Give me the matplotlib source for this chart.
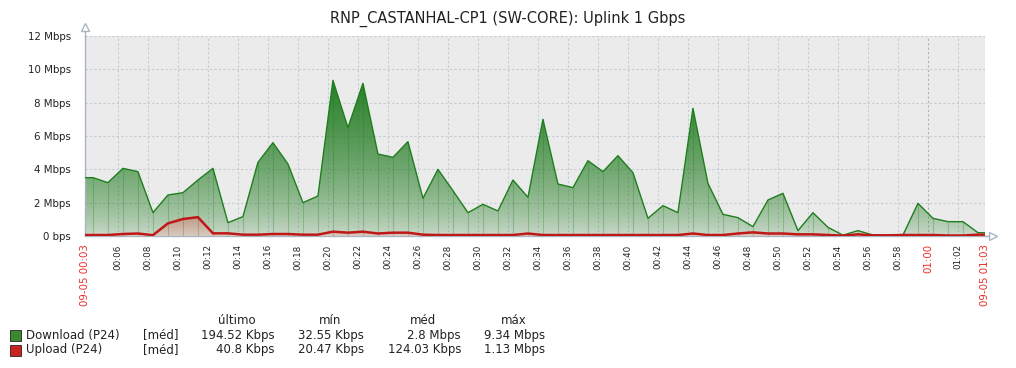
import numpy as np
import matplotlib
matplotlib.use('Agg')
import matplotlib.pyplot as plt
from matplotlib.patches import Rectangle

W, H = 1016, 368

# minutes after 00:00 (first/last are the window edges)
minutes = [3.8] + [4.33 + k for k in range(60)] + [63.8]

download = [3.5, 3.5, 3.2, 4.06, 3.86, 1.4, 2.46, 2.6, 3.36, 4.06,
            0.8, 1.16, 4.42, 5.6, 4.32, 2.0, 2.4, 9.34, 6.5, 9.16,
            4.92, 4.72, 5.66, 2.26, 4.0, 2.72, 1.4, 1.9, 1.5, 3.36,
            2.32, 7.0, 3.12, 2.9, 4.52, 3.86, 4.82, 3.8, 1.06, 1.82,
            1.4, 7.66, 3.16, 1.3, 1.1, 0.56, 2.16, 2.56, 0.32, 1.4,
            0.52, 0.05, 0.32, 0.06, 0.04, 0.05, 1.96, 1.06, 0.86, 0.86,
            0.2, 0.19]
upload = [0.06, 0.06, 0.06, 0.12, 0.15, 0.05, 0.76, 1.02, 1.13, 0.16,
          0.16, 0.08, 0.08, 0.12, 0.12, 0.08, 0.08, 0.26, 0.2, 0.26,
          0.15, 0.2, 0.2, 0.08, 0.06, 0.06, 0.06, 0.06, 0.06, 0.06,
          0.15, 0.06, 0.06, 0.06, 0.06, 0.06, 0.06, 0.06, 0.06, 0.06,
          0.06, 0.15, 0.06, 0.06, 0.15, 0.22, 0.15, 0.15, 0.1, 0.1,
          0.06, 0.02, 0.1, 0.04, 0.04, 0.06, 0.06, 0.06, 0.03, 0.03,
          0.08, 0.08]

y_ticks = [0, 2, 4, 6, 8, 10, 12]
y_labels = ['0 bps', '2 Mbps', '4 Mbps', '6 Mbps', '8 Mbps', '10 Mbps', '12 Mbps']

minor_ticks = [6, 8, 10, 12, 14, 16, 18, 20, 22, 24, 26, 28, 30, 32, 34, 36,
               38, 40, 42, 44, 46, 48, 50, 52, 54, 56, 58, 62]
minor_labels = ['00:%02d' % m for m in minor_ticks[:-1]] + ['01:02']
major_ticks = [3.8, 60, 63.8]
major_labels = ['09-05 00:03', '01:00', '09-05 01:03']

legend_rows = [
    ('Download (P24)', '#3a8a32', ['194.52 Kbps', '32.55 Kbps', '2.8 Mbps', '9.34 Mbps']),
    ('Upload (P24)', '#cc2020', ['40.8 Kbps', '20.47 Kbps', '124.03 Kbps', '1.13 Mbps']),
]
legend_head = ['último', 'mín', 'méd', 'máx']

fig = plt.figure(figsize=(W / 100, H / 100), dpi=100)
ax = fig.add_axes([85 / W, 1 - 236 / H, 900 / W, 200 / H])
ax.set_facecolor('#ebebeb')

x = np.array(minutes)
dl = np.array(download)
ul = np.array(upload)

# ── gradient fill for download ─────────────────────────────────────────────
poly = ax.fill_between(x, 0, dl, color='none', lw=0)
g = np.linspace(0, 1, 256)[:, None]
img = np.zeros((256, 1, 4))
img[..., 0] = 0.10
img[..., 1] = 0.47
img[..., 2] = 0.10
img[..., 3] = np.clip(0.12 + 0.95 * g ** 0.65, 0, 1)
im = ax.imshow(img, extent=[x[0], x[-1], 0, 12], origin='lower',
               aspect='auto', zorder=1, interpolation='bilinear')
im.set_clip_path(poly.get_paths()[0], transform=ax.transData)
ax.vlines(x[1:-1], 0, dl[1:-1], color='#1e7e1e', alpha=0.28, lw=0.8, zorder=2)

# ── opaque fill for upload ─────────────────────────────────────────────────
poly2 = ax.fill_between(x, 0, ul, color='none', lw=0)
lo = np.array([0xd8, 0xca, 0xbf]) / 255
hi = np.array([0xbc, 0x9a, 0x84]) / 255
img2 = np.zeros((256, 1, 3))
img2[:, 0, :] = lo + (hi - lo) * g
im2 = ax.imshow(img2, extent=[x[0], x[-1], 0, 1.2], origin='lower',
                aspect='auto', zorder=3, interpolation='bilinear')
im2.set_clip_path(poly2.get_paths()[0], transform=ax.transData)
ax.vlines(x[1:-1], 0, ul[1:-1], color='#9a5a40', alpha=0.35, lw=0.8, zorder=3.5)

ax.plot(x, dl, color='#1e7e1e', lw=1.0, zorder=4)
ax.plot(x, ul, color='#c01818', lw=1.8, zorder=5)

# ── grid ───────────────────────────────────────────────────────────────────
for yv in y_ticks[1:]:
    ax.axhline(yv, color='#c3ccd4', lw=0.8, ls=(0, (2, 2)), zorder=0.5)
for xv in minor_ticks + [63.8]:
    ax.axvline(xv, color='#c3ccd4', lw=0.8, ls=(0, (2, 2)), zorder=0.5)
ax.axvline(60, color='#a9b4be', lw=0.8, ls=(0, (2, 2)), zorder=0.5)

ax.set_xlim(3.8, 63.8)
ax.set_ylim(0, 12)

ax.set_yticks(y_ticks, y_labels)
ax.tick_params(axis='y', length=0, pad=10, labelsize=7.4, labelcolor='#222222')

ax.set_xticks(minor_ticks + major_ticks, minor_labels + major_labels, rotation=90)
ax.tick_params(axis='x', length=0, pad=6, labelcolor='#222222')
for lab in ax.get_xticklabels():
    if lab.get_text() in major_labels:
        lab.set_color('#e8302a')
        lab.set_fontsize(7.4)
    else:
        lab.set_fontsize(6.3)

for s in ['top', 'right']:
    ax.spines[s].set_visible(False)
for s in ['left', 'bottom']:
    ax.spines[s].set_color('#a9b6c2')
    ax.spines[s].set_linewidth(1.0)

# axis arrows
ax.plot([0, 0], [1, 1.035], color='#a9b6c2', lw=1, transform=ax.transAxes, clip_on=False)
ax.plot(0, 1.045, marker='^', ms=6, mfc='white', mec='#a9b6c2', mew=1,
        transform=ax.transAxes, clip_on=False)
ax.plot([1, 1.006], [0, 0], color='#a9b6c2', lw=1, transform=ax.transAxes, clip_on=False)
ax.plot(1.009, 0, marker='>', ms=6, mfc='white', mec='#a9b6c2', mew=1,
        transform=ax.transAxes, clip_on=False)

fig.text(508 / W, 1 - 19 / H, 'RNP_CASTANHAL-CP1 (SW-CORE): Uplink 1 Gbps',
         ha='center', va='center', fontsize=10.5, color='#222222')

# ── legend table ───────────────────────────────────────────────────────────
fs = 8.5
for txt, cx in zip(legend_head, [237, 330, 423, 514]):
    fig.text(cx / W, 1 - 321 / H, txt, ha='center', va='center', fontsize=fs, color='#222222')
for (name, col, vals), yc in zip(legend_rows, [335, 350]):
    fig.patches.append(Rectangle((10 / W, 1 - (yc + 5.5) / H), 11 / W, 11 / H,
                                 transform=fig.transFigure, fc=col, ec='#222222', lw=0.6))
    fig.text(26 / W, 1 - yc / H, name, ha='left', va='center', fontsize=fs, color='#222222')
    fig.text(179 / W, 1 - yc / H, '[méd]', ha='right', va='center', fontsize=fs, color='#222222')
    for v, rx in zip(vals, [275, 364, 461, 545]):
        fig.text(rx / W, 1 - yc / H, v, ha='right', va='center', fontsize=fs, color='#222222')

fig.savefig('out.png', dpi=100, facecolor='white')
